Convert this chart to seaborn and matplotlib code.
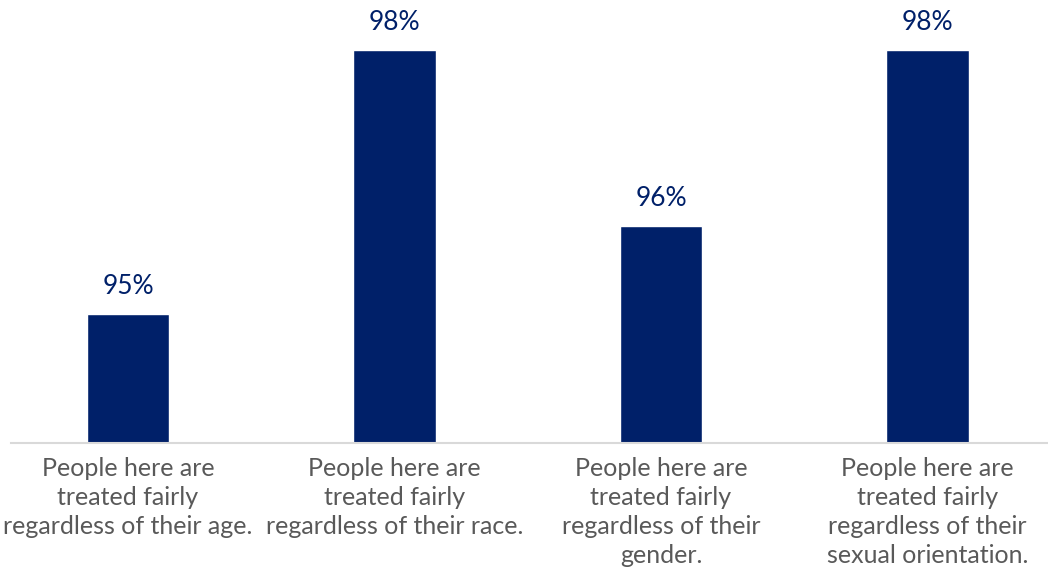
import numpy as np
import pandas as pd
import seaborn as sns
from matplotlib import pyplot as plt

categories = ['People here are\ntreated fairly\nregardless of their age.',
              'People here are\ntreated fairly\nregardless of their race.',
              'People here are\ntreated fairly\nregardless of their\ngender.',
              'People here are\ntreated fairly\nregardless of their\nsexual orientation.']
values = [95, 98, 96, 98]
value_labels = ['95%', '98%', '96%', '98%']

navy = '#002069'
W, H = 1048, 578

sns.set_style('white')
plt.rcParams['font.family'] = ['Lato', 'DejaVu Sans']

fig = plt.figure(figsize=(W/100, H/100), dpi=100)
# axes placed in pixel coords (baseline at y=443 from top, line starts at x=11)
ax = fig.add_axes([11/W, (H-443)/H, (W-11)/W, 443/H])

df = pd.DataFrame({'cat': categories, 'val': values})
sns.barplot(data=df, x='cat', y='val', color=navy, width=0.31, saturation=1, ax=ax)

ax.set_xlim(-0.439, 3.452)
ax.set_ylim(93.53, 98.57)
for p, lab in zip(ax.patches, value_labels):
    ax.annotate(lab, (p.get_x()+p.get_width()/2, p.get_height()), xytext=(0, 11),
                textcoords='offset points', ha='center', va='bottom',
                fontsize=19, color=navy)

ax.set_xlabel('')
ax.set_ylabel('')
ax.set_yticks([])
ax.tick_params(axis='x', length=0, pad=10, labelsize=18, labelcolor='#595959')
for t in ax.get_xticklabels():
    t.set_linespacing(1.32)
for s in ['top', 'left', 'right']:
    ax.spines[s].set_visible(False)
ax.spines['bottom'].set_color('#d9d9d9')
ax.spines['bottom'].set_linewidth(1.5)

fig.savefig('out.png', dpi=100)
